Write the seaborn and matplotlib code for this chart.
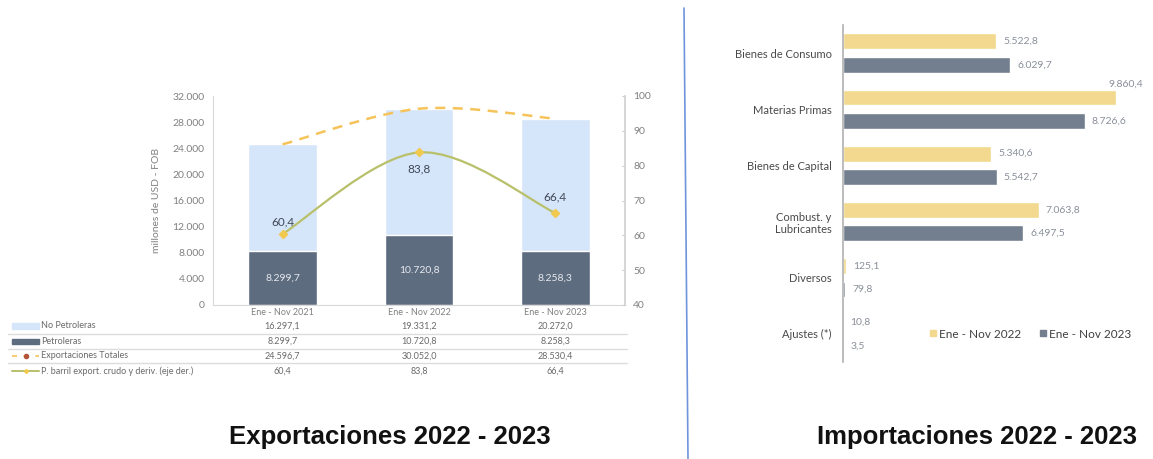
import numpy as np
import matplotlib
matplotlib.use("Agg")
import matplotlib.pyplot as plt
import seaborn as sns
import pandas as pd
from matplotlib.path import Path
from matplotlib.patches import PathPatch, Rectangle
from matplotlib.lines import Line2D
from matplotlib.transforms import blended_transform_factory

# ---- data: exportaciones ----
periodos = ["Ene - Nov 2021", "Ene - Nov 2022", "Ene - Nov 2023"]
no_petroleras = [16297.1, 19331.2, 20272.0]
petroleras = [8299.7, 10720.8, 8258.3]
exp_totales = [24596.7, 30052.0, 28530.4]
precio_barril = [60.4, 83.8, 66.4]

# ---- data: importaciones ----
categorias = ["Bienes de Consumo", "Materias Primas", "Bienes de Capital",
              "Combust. y\nLubricantes", "Diversos", "Ajustes (*)"]
imp_2022 = [5522.8, 9860.4, 5340.6, 7063.8, 125.1, 10.8]
imp_2023 = [6029.7, 8726.6, 5542.7, 6497.5, 79.8, 3.5]
series_imp = ["Ene - Nov 2022", "Ene - Nov 2023"]


def fmt(v, dec=1):
    s = f"{v:,.{dec}f}"
    return s.replace(",", "X").replace(".", ",").replace("X", ".")


def smooth(xs, ys):
    # suavizado tipo Excel (Catmull-Rom -> bezier cubica)
    pts = np.column_stack([xs, ys]).astype(float)
    n = len(pts)
    verts = [pts[0]]
    codes = [Path.MOVETO]
    for i in range(n - 1):
        p_prev = pts[i - 1] if i > 0 else pts[i]
        p_next2 = pts[i + 2] if i + 2 < n else pts[i + 1]
        c1 = pts[i] + (pts[i + 1] - p_prev) / 6
        c2 = pts[i + 1] - (p_next2 - pts[i]) / 6
        verts += [c1, c2, pts[i + 1]]
        codes += [Path.CURVE4] * 3
    return Path(verts, codes)


sns.set_style("white")
plt.rcParams["font.family"] = ["Lato", "DejaVu Sans"]

W, H = 1153, 459
fig = plt.figure(figsize=(W / 100, H / 100), dpi=100)
fig.patch.set_facecolor("white")

LIGHT = "#d6e6fa"
DARK = "#5e6c80"
GOLD = "#f2c94c"
DASH = "#f5c35a"
OLIVE = "#b9c06a"
GRAY_T = "#808080"

# ================= Exportaciones =================
ax = fig.add_axes([213 / W, 1 - 305 / H, 412 / W, 209 / H])
df_exp = pd.DataFrame({"periodo": periodos,
                       "total": np.add(petroleras, no_petroleras),
                       "pet": petroleras})
sns.barplot(data=df_exp, x="periodo", y="total", color=LIGHT, width=0.5,
            saturation=1, ax=ax, zorder=1)
sns.barplot(data=df_exp, x="periodo", y="pet", color=DARK, width=0.5,
            saturation=1, ax=ax, zorder=2)
ax.set_xlim(-0.51, 2.51)
ax.set_ylim(0, 32000)
ax.set_yticks(np.arange(0, 32001, 4000))
ax.set_yticklabels([fmt(v, 0) for v in np.arange(0, 32001, 4000)],
                   fontsize=7.5, color=GRAY_T)
ax.tick_params(axis="x", labelsize=6.5, colors=GRAY_T, length=0, pad=2)
ax.tick_params(axis="y", length=0, pad=6)
ax.set_xlabel("")
ax.set_ylabel("millones de USD - FOB", fontsize=7.5, color=GRAY_T, labelpad=8)
for s in ["left", "bottom"]:
    ax.spines[s].set_color("#d9d9d9")
ax.spines["top"].set_visible(False)
ax.spines["right"].set_visible(False)

for i, v in enumerate(petroleras):
    ax.text(i, v / 2, fmt(v), ha="center", va="center", fontsize=7.5,
            color="#e6e9ee", zorder=5)

ax.add_patch(PathPatch(smooth(range(3), exp_totales), fill=False,
                       edgecolor=DASH, lw=1.8, ls=(0, (4, 3)), zorder=4))

ax2 = ax.twinx()
ax2.set_ylim(40, 100)
ax2.set_yticks(np.arange(40, 101, 10))
ax2.tick_params(axis="y", labelsize=7.5, colors=GRAY_T, length=2,
                direction="in", pad=6)
ax2.tick_params(axis="y", color="#cccccc")
for s in ["left", "top", "bottom"]:
    ax2.spines[s].set_visible(False)
ax2.spines["right"].set_color("#d0d0d0")
ax2.spines["right"].set_linewidth(1.2)
ax2.add_patch(PathPatch(smooth(range(3), precio_barril), fill=False,
                        edgecolor=OLIVE, lw=1.6, zorder=3))
sns.scatterplot(x=[0, 1, 2], y=precio_barril, marker="D", s=22, color=GOLD,
                edgecolor=GOLD, ax=ax2, zorder=4)
ax2.set_xlim(-0.51, 2.51)
offs = [12, -16, 16]
for i, v in enumerate(precio_barril):
    ax2.annotate(fmt(v), (i, v), xytext=(0, offs[i]),
                 textcoords="offset pixels", ha="center", va="center",
                 fontsize=8.5, color="#3f4756")

# ---- tabla de datos ----
tr = blended_transform_factory(ax.transData, fig.transFigure)
row_names = ["No Petroleras", "Petroleras", "Exportaciones Totales",
             "P. barril export. crudo y deriv. (eje der.)"]
row_vals = [no_petroleras, petroleras, exp_totales, precio_barril]
row_y = [326, 341, 356, 371]
for name, vals, yp in zip(row_names, row_vals, row_y):
    yf = 1 - yp / H
    fig.text(41 / W, yf, name, fontsize=6.5, color="#6a6a6a", va="center")
    for i, v in enumerate(vals):
        ax.text(i, yf, fmt(v), transform=tr, ha="center", va="center",
                fontsize=6.5, color="#6a6a6a", clip_on=False)
for yp in [334, 349, 363]:
    fig.add_artist(Line2D([8 / W, 627 / W], [1 - yp / H] * 2,
                          color="#dcdcdc", lw=1))
fig.add_artist(Rectangle((12 / W, 1 - 329 / H), 27 / W, 6 / H, color=LIGHT))
fig.add_artist(Rectangle((12 / W, 1 - 344 / H), 27 / W, 5 / H, color=DARK))
fig.add_artist(Line2D([12 / W, 39 / W], [1 - 356 / H] * 2, color=DASH,
                      lw=1.2, ls=(0, (3, 4))))
fig.add_artist(Line2D([26 / W], [1 - 356 / H], marker="o", markersize=3,
                      color="#b5543a"))
fig.add_artist(Line2D([12 / W, 39 / W], [1 - 371 / H] * 2, color=OLIVE,
                      lw=1.4))
fig.add_artist(Line2D([26 / W], [1 - 371 / H], marker="D", markersize=2,
                      color=GOLD))

# ================= Importaciones =================
bx = fig.add_axes([843 / W, 1 - 362 / H, 297 / W, 337 / H])
df_imp = pd.DataFrame({
    "categoria": categorias * 2,
    "valor": imp_2022 + imp_2023,
    "serie": [series_imp[0]] * 6 + [series_imp[1]] * 6,
})
YEL = "#f3d98f"
SLATE = "#737f8f"
sns.barplot(data=df_imp, y="categoria", x="valor", hue="serie",
            palette=[YEL, SLATE], orient="h", width=0.84, gap=0.33,
            saturation=1, ax=bx, legend=False)
bx.set_ylim(5.5, -0.5)
bx.set_xlim(0, 10720)
bx.set_xlabel("")
bx.set_ylabel("")
bx.set_xticks([])
for s in ["top", "right", "bottom"]:
    bx.spines[s].set_visible(False)
bx.spines["left"].set_color("#b0b0b0")
bx.spines["left"].set_linewidth(1.2)
bx.tick_params(axis="y", which="major", length=0, labelsize=8,
               labelcolor="#4a4a4a", pad=8)
bx.set_yticks(np.arange(0.5, 5.5, 1), minor=True)
bx.tick_params(axis="y", which="minor", length=4, direction="inout",
               color="#b0b0b0")
for lab in bx.get_yticklabels():
    lab.set_multialignment("center")

imax = int(np.argmax(imp_2022))
for j, vals in enumerate([imp_2022, imp_2023]):
    for i, v in enumerate(vals):
        yc = i + (-0.21 if j == 0 else 0.21)
        if j == 0 and i == imax:
            bx.annotate(fmt(v), (v, yc), xytext=(-8, 13),
                        textcoords="offset pixels", ha="left", va="center",
                        fontsize=7.5, color="#8a8f99", annotation_clip=False)
        else:
            bx.annotate(fmt(v), (v, yc), xytext=(7, 0),
                        textcoords="offset pixels", ha="left", va="center",
                        fontsize=7.5, color="#8a8f99")

handles = [Line2D([], [], marker="s", ls="", color=c, markersize=5)
           for c in [YEL, SLATE]]
bx.legend(handles, series_imp, loc="center right",
          bbox_to_anchor=(1142 / W, 1 - 334 / H),
          bbox_transform=fig.transFigure, ncol=2, frameon=False,
          fontsize=8.5, handletextpad=0.0, columnspacing=1.4,
          labelcolor="#404040", handlelength=1.0)

# ---- titulos y separador ----
tfont = ["Liberation Sans", "DejaVu Sans"]
fig.text(390 / W, 1 - 437 / H, "Exportaciones 2022 - 2023", ha="center",
         va="center", fontsize=18.5, fontweight="bold", family=tfont,
         color="#111111")
fig.text(977 / W, 1 - 437 / H, "Importaciones 2022 - 2023", ha="center",
         va="center", fontsize=18.5, fontweight="bold", family=tfont,
         color="#111111")
fig.add_artist(Line2D([684 / W, 688 / W], [1 - 8 / H, 0], color="#6f94dc",
                      lw=1.2))

fig.savefig("out.png", dpi=100, facecolor="white")
